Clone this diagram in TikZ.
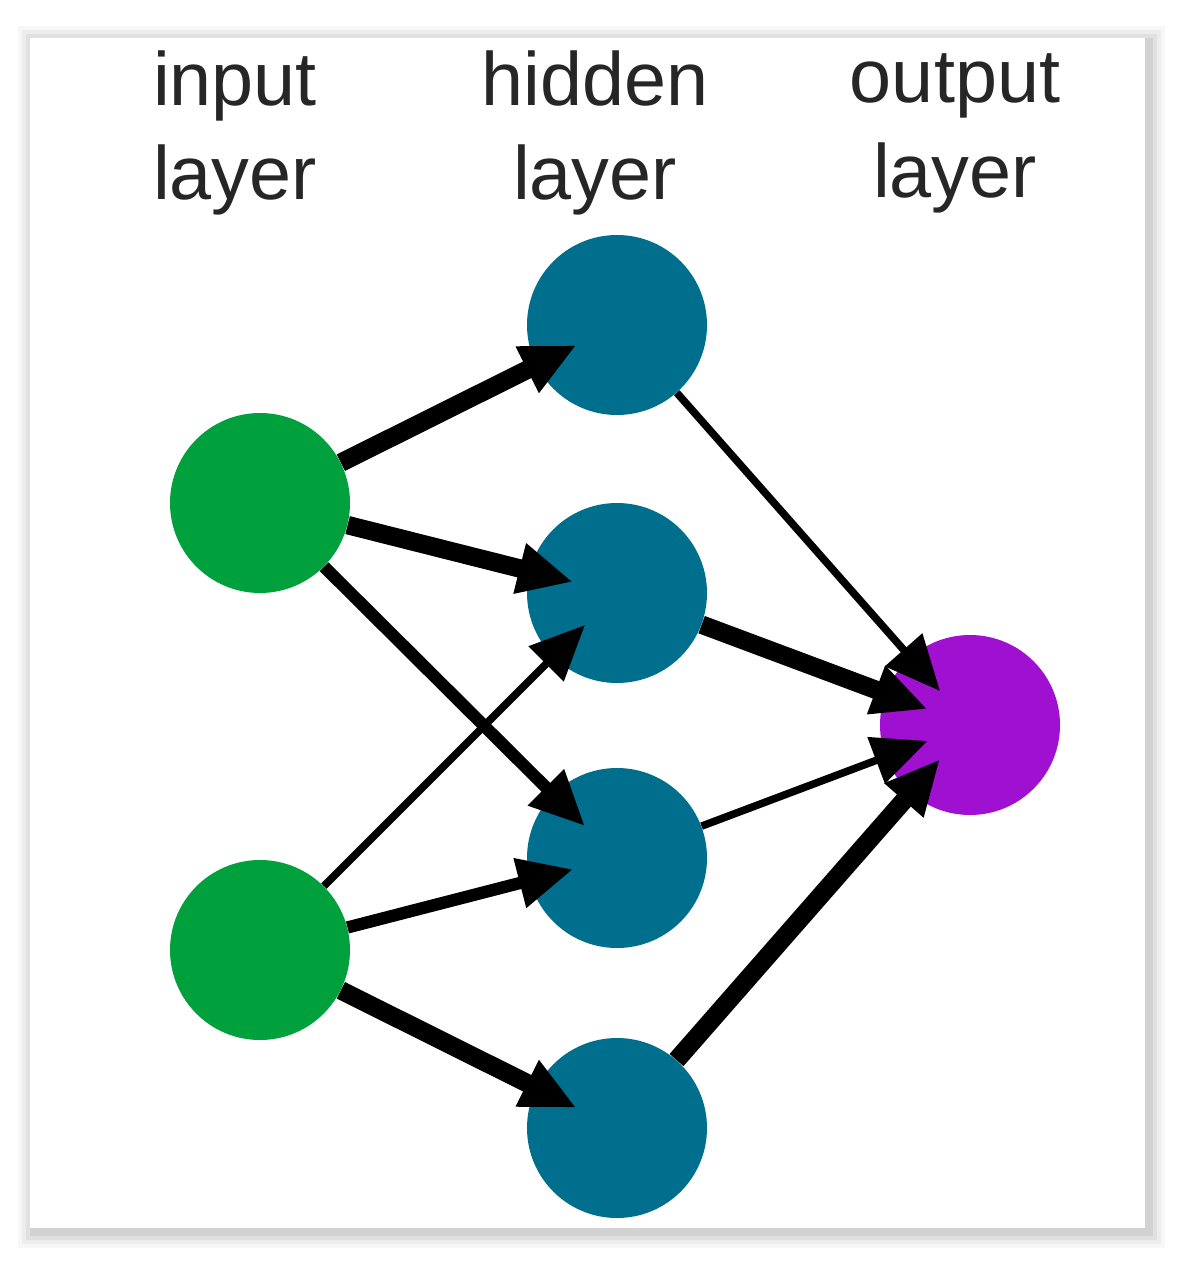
\documentclass[tikz,border=0pt]{standalone}
\usepackage{fontspec}
\setmainfont{Liberation Sans}
\usetikzlibrary{arrows.meta}
\definecolor{ingreen}{RGB}{0,160,60}
\definecolor{hidteal}{RGB}{0,111,142}
\definecolor{outpurple}{RGB}{160,16,208}
\tikzset{
  neuron/.style={circle,minimum size=180*0.02cm,inner sep=0pt,draw=none},
  lbl/.style={align=center,font=\fontsize{43}{54}\selectfont,text=black!85},
  conn/.style={-{Triangle[length=55*0.02cm,width=48*0.02cm]},shorten >=-45*0.02cm},
  wthick/.style={line width=10.5pt},
  wmed/.style={line width=7pt},
  wthin/.style={line width=4.3pt}
}
\begin{document}
\begin{tikzpicture}[x=0.02cm,y=-0.02cm]
\useasboundingbox (0,0) rectangle (1182,1263);
\fill[white] (0,0) rectangle (1182,1263);
\foreach \o/\a in {16/0.03,12/0.04,8/0.05,4/0.06}
  \fill[black,opacity=\a] (30-\o+4,38-\o+4) rectangle (1145+\o+4,1228+\o+4);
\fill[white] (30,38) rectangle (1145,1228);
\node[lbl] (t1) at (235,133) {input\\layer};
\node[lbl] (t2) at (595,133) {hidden\\layer};
\node[lbl] (t3) at (955,133) {output\\layer};
\node[neuron,fill=ingreen] (i1) at (260,503) {};
\node[neuron,fill=ingreen] (i2) at (260,950) {};
\node[neuron,fill=hidteal] (h1) at (617,325) {};
\node[neuron,fill=hidteal] (h2) at (617,593) {};
\node[neuron,fill=hidteal] (h3) at (617,858) {};
\node[neuron,fill=hidteal] (h4) at (617,1128) {};
\node[neuron,fill=outpurple] (o) at (970,725) {};
\draw[conn,wthick] (i1) -- (h1);
\draw[conn,wthick] (i1) -- (h2);
\draw[conn,wmed] (i1) -- (h3);
\draw[conn,wthin] (i2) -- (h2);
\draw[conn,wmed] (i2) -- (h3);
\draw[conn,wthick] (i2) -- (h4);
\draw[conn,wthin] (h1) -- (o);
\draw[conn,wthick] (h2) -- (o);
\draw[conn,wthin] (h3) -- (o);
\draw[conn,wthick] (h4) -- (o);
\end{tikzpicture}
\end{document}
